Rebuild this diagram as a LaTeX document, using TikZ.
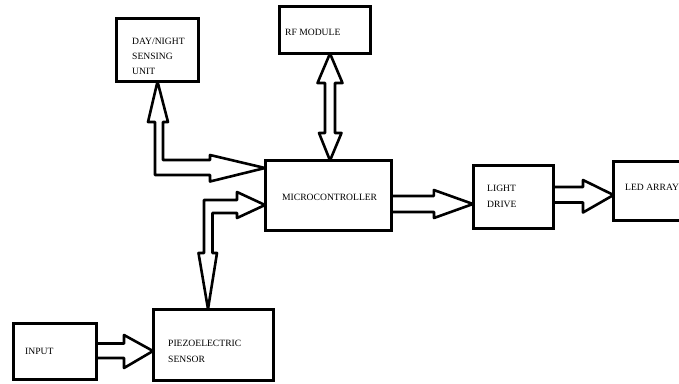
\documentclass[tikz,border=0pt]{standalone}
\usepackage{fontspec}
\setmainfont{Liberation Serif}
\usetikzlibrary{calc}
\begin{document}
\begin{tikzpicture}[x=1pt,y=-1pt,
  box/.style={draw, line width=3pt, inner sep=0pt, outer sep=0pt},
  lbl/.style={anchor=west, inner sep=0pt, align=left, font=\fontsize{9.6}{15}\selectfont},
  lbltwo/.style={lbl, font=\fontsize{9.6}{16}\selectfont},
  hollow/.style={draw, line width=2.6pt, line join=round}]
\useasboundingbox (0,0) rectangle (679,383);
\fill[white] (0,0) rectangle (679,383);

% boxes
\node[box, minimum width=82pt, minimum height=63.5pt] (dn) at (157.5,49.75) {};
\node[box, minimum width=91pt, minimum height=47pt] (rf) at (325,30) {};
\node[box, minimum width=126.8pt, minimum height=69.5pt] (mcu) at (328.4,195.25) {};
\node[box, minimum width=80.5pt, minimum height=63pt] (ld) at (513.25,197) {};
\node[box, minimum width=86.5pt, minimum height=59pt] (led) at (656.75,191) {};
\node[box, minimum width=83pt, minimum height=56pt] (inp) at (54.5,351) {};
\node[box, minimum width=120.5pt, minimum height=71pt] (pz) at (213.25,344.5) {};

% labels
\node[lbl] (dnt) at (132,56.7) {DAY/NIGHT\\SENSING\\UNIT};
\node[lbl] (rft) at (285,32) {RF MODULE};
\node[lbl] (mcut) at (282,197.7) {MICROCONTROLLER};
\node[lbltwo] (ldt) at (487,196) {LIGHT\\DRIVE};
\node[lbl] (ledt) at (625,187) {LED ARRAY};
\node[lbl] (inpt) at (25,351.7) {INPUT};
\node[lbltwo] (pzt) at (168,351.7) {PIEZOELECTRIC\\SENSOR};

% DAY/NIGHT <-> MICROCONTROLLER
\draw[hollow] (dn.south) -- ++(10.5,40.5) -- ++(-5,0) -- ++(0,38) -- ++(47,0) -- ++(0,-5)
  -- (mcu.west |- 0,168) -- ++(-55,13.5) -- ++(0,-6.5) -- ++(-55,0) -- ++(0,-53) -- ++(-7,0) -- cycle;

% RF MODULE <-> MICROCONTROLLER
\draw[hollow] (rf.south -| 330,0) -- ++(12.5,29.5) -- ++(-7.5,0) -- ++(0,50) -- ++(6.5,0)
  -- (mcu.north -| 330,0) -- ++(-11,-27.5) -- ++(6,0) -- ++(0,-50) -- ++(-7.5,0) -- cycle;

% MICROCONTROLLER <-> PIEZOELECTRIC SENSOR
\draw[hollow] (mcu.west |- 0,205) -- ++(-28,-13) -- ++(0,8) -- ++(-33,0) -- ++(0,53) -- ++(-5.5,0)
  -- (pz.north -| 208,0) -- ++(9,-56) -- ++(-4.5,0) -- ++(0,-40) -- ++(24.5,0) -- ++(0,5) -- cycle;

% MICROCONTROLLER -> LIGHT DRIVE
\draw[hollow] (mcu.east |- 0,196) -- ++(42,0) -- ++(0,-6) -- (ld.west |- 0,204)
  -- ++(-39,14) -- ++(0,-6) -- (mcu.east |- 0,212);

% LIGHT DRIVE -> LED ARRAY
\draw[hollow] (ld.east |- 0,187) -- ++(29.5,0) -- ++(0,-7) -- (led.west |- 0,195)
  -- ++(-30.5,17.5) -- ++(0,-10) -- (ld.east |- 0,202.5);

% INPUT -> PIEZOELECTRIC SENSOR
\draw[hollow] (inp.east |- 0,343.5) -- ++(28,0) -- ++(0,-8.5) -- (pz.west |- 0,351)
  -- ++(-29,17) -- ++(0,-10) -- (inp.east |- 0,358);
\end{tikzpicture}
\end{document}
